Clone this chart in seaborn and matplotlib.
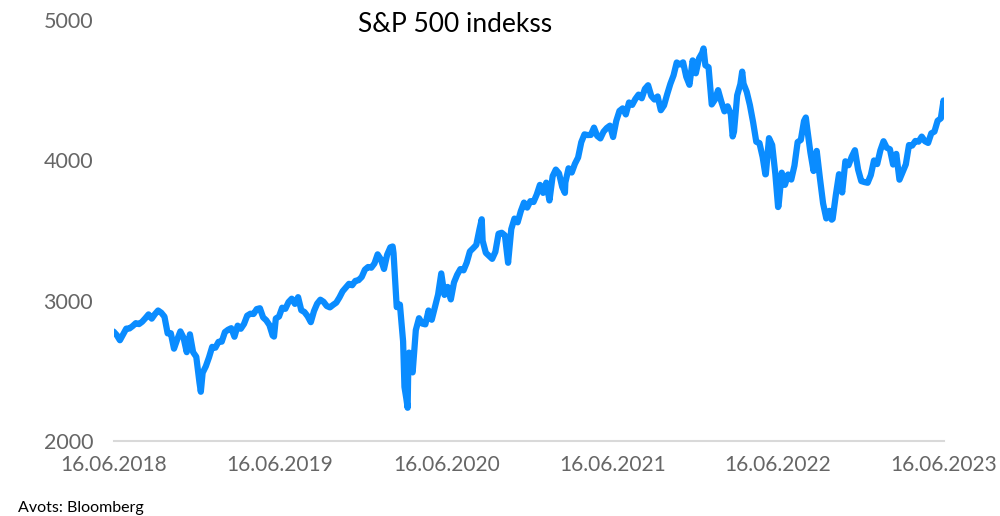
import pandas as pd
import seaborn as sns
import matplotlib.pyplot as plt
import matplotlib.dates as mdates

# weekly closes (Fridays)
vals_2018 = [2780, 2755, 2718, 2760, 2801, 2802, 2819, 2840, 2833, 2850, 2875, 2902,
             2872, 2904, 2930, 2914, 2886, 2767, 2768, 2658, 2723, 2781, 2736, 2633,
             2760, 2633, 2600, 2417, 2486]
vals_2019 = [2532, 2596, 2671, 2665, 2707, 2708, 2776, 2793, 2804, 2743, 2822, 2800,
             2834, 2893, 2907, 2905, 2940, 2946, 2881, 2860, 2826, 2752, 2873, 2887,
             2950, 2942, 2990, 3014, 2977, 3025, 2932, 2919, 2889, 2847, 2926, 2979,
             3007, 2992, 2962, 2952, 2970, 2986, 3023, 3067, 3093, 3120, 3110, 3141,
             3146, 3169, 3221, 3240]
vals_2020 = [3235, 3265, 3330, 3295, 3226, 3328, 3380, 3338, 2954, 2972, 2711, 2305,
             2541, 2489, 2790, 2875, 2837, 2831, 2930, 2864, 2955, 3044, 3194, 3041,
             3098, 3009, 3130, 3185, 3225, 3216, 3271, 3351, 3373, 3397, 3508, 3427,
             3341, 3319, 3298, 3348, 3477, 3484, 3465, 3270, 3510, 3585, 3558, 3638,
             3699, 3663, 3709, 3703]
vals_2021 = [3756, 3825, 3768, 3841, 3714, 3887, 3934, 3907, 3811, 3842, 3943, 3913,
             3975, 4020, 4129, 4185, 4180, 4181, 4233, 4174, 4156, 4204, 4230, 4247,
             4166, 4281, 4352, 4370, 4327, 4412, 4395, 4437, 4468, 4442, 4509, 4535,
             4459, 4433, 4455, 4357, 4391, 4471, 4545, 4605, 4697, 4683, 4698, 4595,
             4538, 4712, 4620, 4726, 4766]
vals_2022 = [4677, 4663, 4398, 4432, 4500, 4419, 4349, 4385, 4329, 4204, 4463, 4543,
             4546, 4488, 4393, 4272, 4132, 4123, 4023, 3901, 4158, 4109, 3901, 3675,
             3912, 3825, 3899, 3863, 3962, 4130, 4145, 4280, 4228, 4058, 3924, 4067,
             3873, 3693, 3586, 3640, 3583, 3752, 3901, 3771, 3993, 3965, 4026, 4072,
             3934, 3852, 3845, 3840]
vals_2023 = [3895, 3999, 3973, 4071, 4136, 4090, 4079, 3970, 4046, 3862, 3917, 3971,
             4109, 4105, 4138, 4133, 4169, 4136, 4124, 4192, 4205, 4282, 4299, 4410]

# daily highs / lows that the weekly closes miss
extra_dates = ["2018-12-24", "2019-06-03", "2020-02-19", "2020-03-16", "2020-03-23",
               "2020-03-24", "2020-03-26", "2020-09-02", "2021-03-04", "2022-01-03",
               "2022-03-08", "2022-03-29", "2022-05-19", "2022-06-16", "2022-08-16",
               "2022-10-12", "2023-06-15"]
extra_vals = [2351, 2744, 3386, 2386, 2237, 2447, 2630, 3580, 3768, 4797,
              4170, 4632, 3900, 3667, 4305, 3577, 4426]

x_ticks = ["2018-06-16", "2019-06-16", "2020-06-16", "2021-06-16", "2022-06-16", "2023-06-16"]
y_ticks = [2000, 3000, 4000, 5000]

values = vals_2018 + vals_2019 + vals_2020 + vals_2021 + vals_2022 + vals_2023
dates = pd.date_range("2018-06-15", "2023-06-16", freq="W-FRI")
df = pd.DataFrame({"date": dates, "value": values})
df = pd.concat([df, pd.DataFrame({"date": pd.to_datetime(extra_dates), "value": extra_vals})])
df = df.sort_values("date").reset_index(drop=True)

sns.set_style("white")
plt.rcParams["font.family"] = ["Lato", "DejaVu Sans"]

fig = plt.figure(figsize=(10, 5.16), dpi=100)
ax = fig.add_axes([0.114, 0.1453, 0.830, 0.816])
sns.lineplot(data=df, x="date", y="value", color="#0a8cff", linewidth=4.5, ax=ax,
             solid_capstyle="round", solid_joinstyle="round")

ax.set_xlim(pd.Timestamp(x_ticks[0]), pd.Timestamp(x_ticks[-1]))
ax.set_ylim(y_ticks[0], y_ticks[-1])
ax.set_xticks(pd.to_datetime(x_ticks))
ax.xaxis.set_major_formatter(mdates.DateFormatter("%d.%m.%Y"))
ax.set_yticks(y_ticks)
ax.set_xlabel("")
ax.set_ylabel("")

for s in ["top", "right", "left"]:
    ax.spines[s].set_visible(False)
ax.spines["bottom"].set_color("#d9d9d9")
ax.spines["bottom"].set_linewidth(1.5)
ax.tick_params(axis="x", colors="#d9d9d9", length=6, width=1.5, labelcolor="#666666",
               labelsize=15, pad=4)
ax.tick_params(axis="y", length=0, labelcolor="#666666", labelsize=15.5, pad=15)

fig.text(0.455, 0.953, "S&P 500 indekss", ha="center", va="center", fontsize=19, color="black")
fig.text(0.018, 0.016, "Avots: Bloomberg", ha="left", va="center", fontsize=11.5, color="black")

fig.savefig("out.png", dpi=100)
